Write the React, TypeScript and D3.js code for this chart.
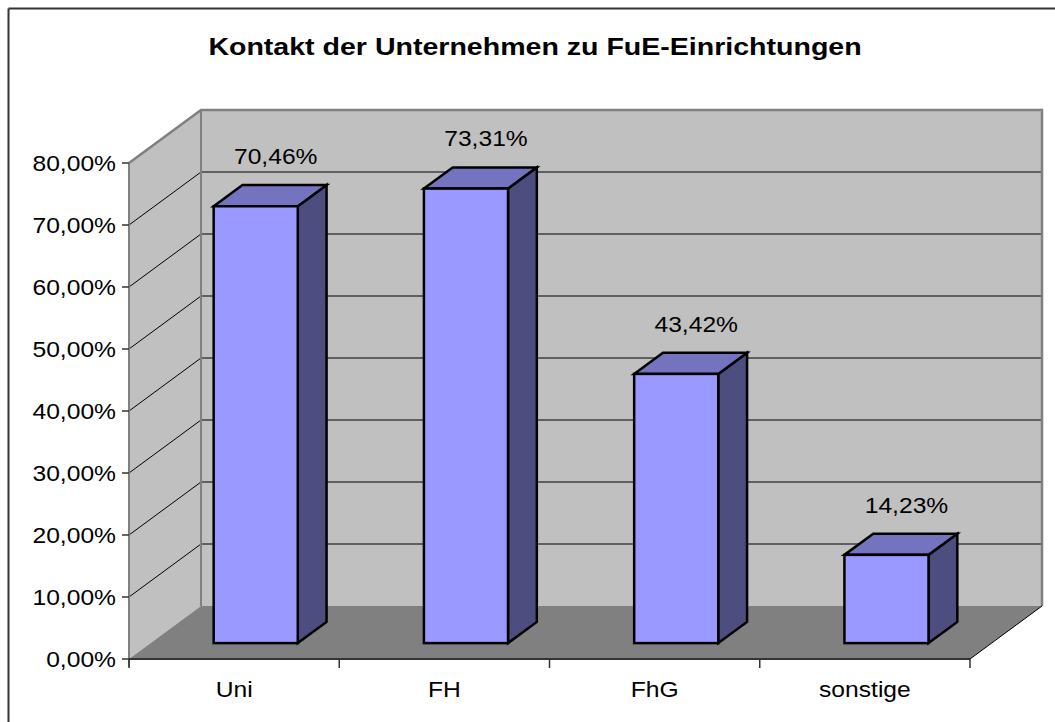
import React from "react";
import * as d3 from "d3";

const title = "Kontakt der Unternehmen zu FuE-Einrichtungen";
const categories = ["Uni", "FH", "FhG", "sonstige"];
const values = [70.46, 73.31, 43.42, 14.23];
const valueLabels = ["70,46%", "73,31%", "43,42%", "14,23%"];
const yTicks = [0, 10, 20, 30, 40, 50, 60, 70, 80];
const yTickLabels = ["0,00%", "10,00%", "20,00%", "30,00%", "40,00%", "50,00%", "60,00%", "70,00%", "80,00%"];

function SText(props: { x: number; y: number; sx: number; size: number; anchor: string; bold?: boolean; children: string }) {
  return (
    <text
      transform={`translate(${props.x},${props.y}) scale(${props.sx},1)`}
      textAnchor={props.anchor}
      fontSize={props.size}
      fontWeight={props.bold ? "bold" : "normal"}
      fill="#000"
      stroke="none"
    >
      {props.children}
    </text>
  );
}

export default function App() {
  const W = 1055, H = 722;
  const left = 129, right = 970, bottom = 659;
  const DX = 72, DY = -53;
  const y = d3.scaleLinear().domain([0, 80]).range([bottom, bottom - 80 * 6.2]);
  const x = d3.scaleBand().domain(categories).range([left, right]).paddingInner(0).paddingOuter(0);
  const f0 = 0.3, f1 = 0.7; // depth fractions of bars
  const font = "'Liberation Sans', Arial, sans-serif";
  const top = y(80);
  const pts = (a: number[][]) => a.map((p) => p.join(",")).join(" ");
  const SX = 1.12;
  const FS = 22;

  return (
    <svg width={W} height={H} style={{ position: "absolute", left: 0, top: 0, background: "#fff" }} fontFamily={font}>
      <rect x={0} y={0} width={W} height={H} fill="#fff" />
      <line x1={8.5} y1={8.5} x2={W} y2={8.5} stroke="#333" strokeWidth={2} />
      <line x1={8.5} y1={8.5} x2={8.5} y2={H} stroke="#333" strokeWidth={2} />
      <SText x={535} y={55} sx={1.19} size={24} anchor="middle" bold>{title}</SText>

      {/* left wall */}
      <polygon points={pts([[left, top], [left + DX, top + DY], [left + DX, bottom + DY], [left, bottom]])} fill="#c0c0c0" />
      {/* back wall */}
      <polygon points={pts([[left + DX, top + DY], [right + DX, top + DY], [right + DX, bottom + DY], [left + DX, bottom + DY]])} fill="#c0c0c0" />
      {/* floor */}
      <polygon points={pts([[left, bottom], [right, bottom], [right + DX, bottom + DY], [left + DX, bottom + DY]])} fill="#808080" />

      {/* gridlines */}
      {yTicks.filter((t) => t > 0 && t < 80).map((t) => (
        <g key={t}>
          <line x1={left} y1={y(t)} x2={left + DX} y2={y(t) + DY} stroke="#000" strokeWidth={1} />
          <line x1={left + DX} y1={y(t) + DY} x2={right + DX} y2={y(t) + DY} stroke="#000" strokeWidth={1} />
        </g>
      ))}

      {/* wall edges */}
      <polyline points={pts([[left, top], [left + DX, top + DY], [right + DX, top + DY], [right + DX, bottom + DY]])} fill="none" stroke="#808080" strokeWidth={2.5} />
      <line x1={left + DX} y1={top + DY} x2={left + DX} y2={bottom + DY} stroke="#808080" strokeWidth={2} />
      <line x1={right} y1={bottom} x2={right + DX} y2={bottom + DY} stroke="#000" strokeWidth={1} />

      {/* bars */}
      {categories.map((c, i) => {
        const bw = x.bandwidth();
        const bx0 = (x(c) as number) + bw * 0.3 + DX * f0;
        const bx1 = bx0 + bw * 0.4;
        const yb = bottom + DY * f0;
        const yt = y(values[i]) + DY * f0;
        const ddx = DX * (f1 - f0), ddy = DY * (f1 - f0);
        return (
          <g key={c} stroke="#000" strokeWidth={2.5} strokeLinejoin="miter">
            <polygon points={pts([[bx1, yt], [bx1 + ddx, yt + ddy], [bx1 + ddx, yb + ddy], [bx1, yb]])} fill="#4d4d80" />
            <polygon points={pts([[bx0, yt], [bx0 + ddx, yt + ddy], [bx1 + ddx, yt + ddy], [bx1, yt]])} fill="#7373bf" />
            <rect x={bx0} y={yt} width={bx1 - bx0} height={yb - yt} fill="#9999ff" />
            <SText x={(bx0 + bx1) / 2 + 20} y={yt + ddy - 21} sx={SX} size={FS} anchor="middle">{valueLabels[i]}</SText>
          </g>
        );
      })}

      {/* axes */}
      <line x1={left} y1={top} x2={left} y2={bottom + 8} stroke="#808080" strokeWidth={2} />
      <line x1={left} y1={bottom} x2={right} y2={bottom} stroke="#333" strokeWidth={2} />
      {yTicks.map((t, i) => (
        <g key={t}>
          <line x1={left - 7} y1={y(t)} x2={left} y2={y(t)} stroke="#333" strokeWidth={1.5} />
          <SText x={116} y={y(t) + 8} sx={SX} size={FS} anchor="end">{yTickLabels[i]}</SText>
        </g>
      ))}
      {[...categories.map((c) => x(c) as number), right].map((v, i) => (
        <line key={i} x1={v} y1={bottom} x2={v} y2={bottom + 9} stroke="#333" strokeWidth={1.5} />
      ))}
      {categories.map((c) => (
        <SText key={c} x={(x(c) as number) + x.bandwidth() / 2} y={697} sx={SX} size={FS} anchor="middle">{c}</SText>
      ))}
    </svg>
  );
}
